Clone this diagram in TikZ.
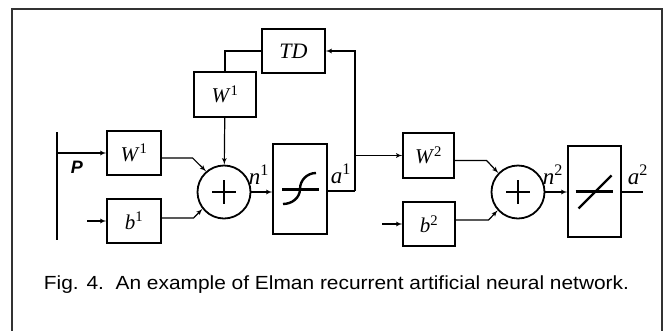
\documentclass[tikz,border=0pt]{standalone}
\usepackage{fontspec}
\setmainfont{Liberation Serif}
\newfontfamily\arialfont{Liberation Sans}
\newfontfamily\captionfont[FakeStretch=1.1]{Liberation Sans}
\usetikzlibrary{arrows, calc}

\begin{document}
\begin{tikzpicture}[
    x=1pt, y=-1pt,
    line width=1.2pt,
    block/.style={rectangle, draw, minimum width=54pt, minimum height=44pt, inner sep=0pt, font=\fontsize{21}{21}\selectfont},
    tall/.style={block, minimum height=90pt},
    summer/.style={circle, draw, line width=1.8pt, minimum size=53pt, inner sep=0pt},
    signal/.style={font=\fontsize{23}{23}\selectfont, inner sep=0pt},
    arrow/.style={-latex'}
]
    \useasboundingbox (0,0) rectangle (668,330);
    % Frame
    \draw [line width=1.4pt, black!80] (12,332) -- (12,9) -- (662,9) -- (662,332);

    % Blocks
    \node [block, minimum width=63pt, font=\fontsize{22}{22}\selectfont] (td) at (293.5,51) {\textit{TD}};
    \node [block, minimum width=62pt, minimum height=45pt] (w1top) at (225,94.5) {\textit{W}\textsuperscript{1}};
    \node [block] (w1) at (134,153) {\textit{W}\textsuperscript{1}};
    \node [block] (b1) at (134,221) {\textit{b}\textsuperscript{1}};
    \node [summer] (sum1) at (224,192) {};
    \node [tall] (sig) at (300,189) {};
    \node [block, minimum width=51pt, minimum height=45pt] (w2) at (428.5,155.5) {\textit{W}\textsuperscript{2}};
    \node [block, minimum width=52pt] (b2) at (429,224) {\textit{b}\textsuperscript{2}};
    \node [summer] (sum2) at (518,192) {};
    \node [tall, minimum width=53pt, minimum height=91pt] (lin) at (594.5,191.5) {};

    % Plus signs and transfer functions
    \foreach \s in {sum1, sum2} {
        \draw [line width=1.8pt] ($(\s)+(-12,0)$) -- ($(\s)+(12,0)$);
        \draw [line width=1.8pt] ($(\s)+(0,-12)$) -- ($(\s)+(0,12)$);
    }
    \begin{scope}[shift={(sig.center)}]
        \draw [line width=3pt] (-18,0) -- (19,0);
        \draw [line width=2.4pt] (-17,15) to[out=0,in=-90] (0,0) to[out=90,in=180] (16,-16);
    \end{scope}
    \begin{scope}[shift={(lin.center)}]
        \draw [line width=3pt] (-19,0) -- (18,0);
        \draw [line width=2.4pt] (-16,17) -- (17,-16);
    \end{scope}

    % Input
    \coordinate (ptop) at (57,132);
    \coordinate (pbot) at (57,240);
    \coordinate (pin) at (57,153);
    \coordinate (b1in) at (87,221);
    \coordinate (b2in) at (382,224);
    \coordinate (a1j) at (355,191);
    \coordinate (aout) at (643,192);
    \draw [line width=2.5pt] (ptop) -- (pbot);
    \node [font=\arialfont\bfseries\itshape\fontsize{18}{18}\selectfont] (plbl) at (77,167) {P};

    % Labels
    \node [signal] (n1) at (259,175) {\textit{n}\textsuperscript{1}};
    \node [signal] (a1) at (341,174) {\textit{a}\textsuperscript{1}};
    \node [signal] (n2) at (553,175) {\textit{n}\textsuperscript{2}};
    \node [signal] (a2) at (638,175) {\textit{a}\textsuperscript{2}};

    % Connections
    \draw [arrow] (pin) -- (w1);
    \draw [arrow] (b1in) -- (b1);
    \draw [arrow] ([yshift=-5pt]w1.east) -- ++(31,0) -- (sum1.131);
    \draw [arrow] ([yshift=3pt]b1.east) -- ++(32,0) -- (sum1.218);
    \draw [arrow] (w1top) -- (sum1);
    \draw (td.west) -| (w1top.north);
    \draw [arrow] (sum1.east) -- (sum1.east -| sig.west);
    \draw (sig.east |- a1j) -- (a1j);
    \draw [arrow] (a1j) |- (td.east);
    \draw [arrow] (a1j |- w2.west) -- (w2.west);
    \draw [arrow] (b2in) -- (b2);
    \draw [arrow] ([yshift=-5pt]w2.east) -- ++(32,0) -- (sum2.136);
    \draw [arrow] ([yshift=4pt]b2.east) -- ++(33,0) -- (sum2.222);
    \draw [arrow] (sum2.east) -- (sum2.east -| lin.west);
    \draw (lin.east |- aout) -- (aout);

    % Caption
    \node [font=\captionfont\fontsize{19}{20}\selectfont] (caption) at (336.5,285) {Fig. 4.\ \ An example of Elman recurrent artificial neural network.};
\end{tikzpicture}
\end{document}
